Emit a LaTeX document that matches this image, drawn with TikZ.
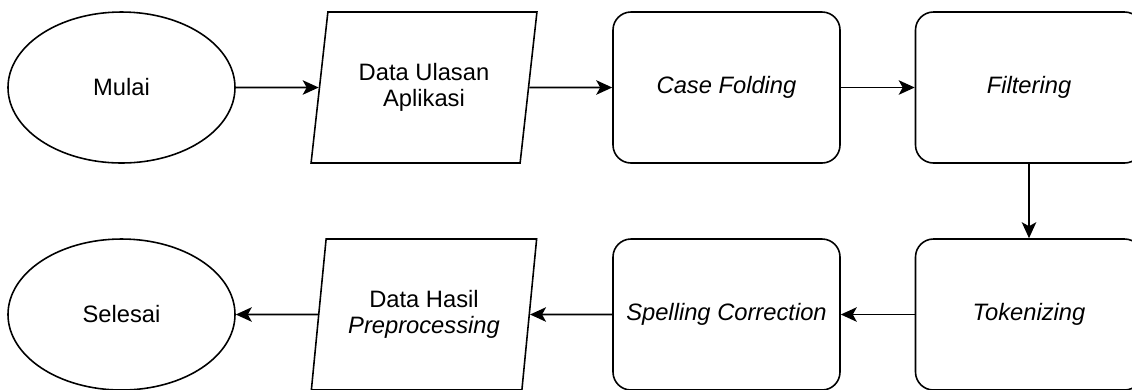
\documentclass[tikz,border=0pt]{standalone}
\usepackage{fontspec}
\setmainfont{Liberation Sans}
\usetikzlibrary{shapes.geometric, arrows.meta}

\tikzset{%
  % Specifications for style of nodes:
         terminal/.style = {ellipse, draw = black, minimum width=4.54cm, minimum height=3.02cm, inner sep=0pt},
         io/.style = {trapezium, trapezium left angle=76.5, trapezium right angle=103.5, trapezium stretches=true, draw = black, minimum width=4.54cm, minimum height=3.02cm, inner sep=0pt},
         process/.style = {rectangle, rounded corners=0.36cm, draw = black, minimum width=4.54cm, minimum height=3.02cm},
}

\begin{document}
\begin{tikzpicture}[node distance=6.05cm, every node/.style={fill=white, font=\fontsize{13.5}{14.5}\selectfont}, align=center, line width=0.9pt, >={Stealth[length=3.2mm, width=2.9mm, inset=0.8mm]}]
    \useasboundingbox (0,0) rectangle (22.64,-7.78);
    % Draw nodes
    \node (mulai)    [terminal] at (2.43,-1.75)          {Mulai};
    \node (ulasan)   [io, right of = mulai]              {Data Ulasan\\Aplikasi};
    \node (casefold) [process, right of = ulasan]        {\textit{Case Folding}};
    \node (filter)   [process, right of = casefold]      {\textit{Filtering}};
    \node (token)    [process, below of = filter, node distance=4.54cm] {\textit{Tokenizing}};
    \node (spell)    [process, left of = token]          {\textit{Spelling Correction}};
    \node (hasil)    [io, left of = spell]               {Data Hasil\\\textit{Preprocessing}};
    \node (selesai)  [terminal, left of = hasil]         {Selesai};

    % Draw arrows
    \draw[->]      (mulai) -- (ulasan);
    \draw[->]     (ulasan) -- (casefold);
    \draw[->]   (casefold) -- (filter);
    \draw[->]     (filter) -- (token);
    \draw[->]      (token) -- (spell);
    \draw[->]      (spell) -- (hasil);
    \draw[->]      (hasil) -- (selesai);

\end{tikzpicture}
\end{document}
